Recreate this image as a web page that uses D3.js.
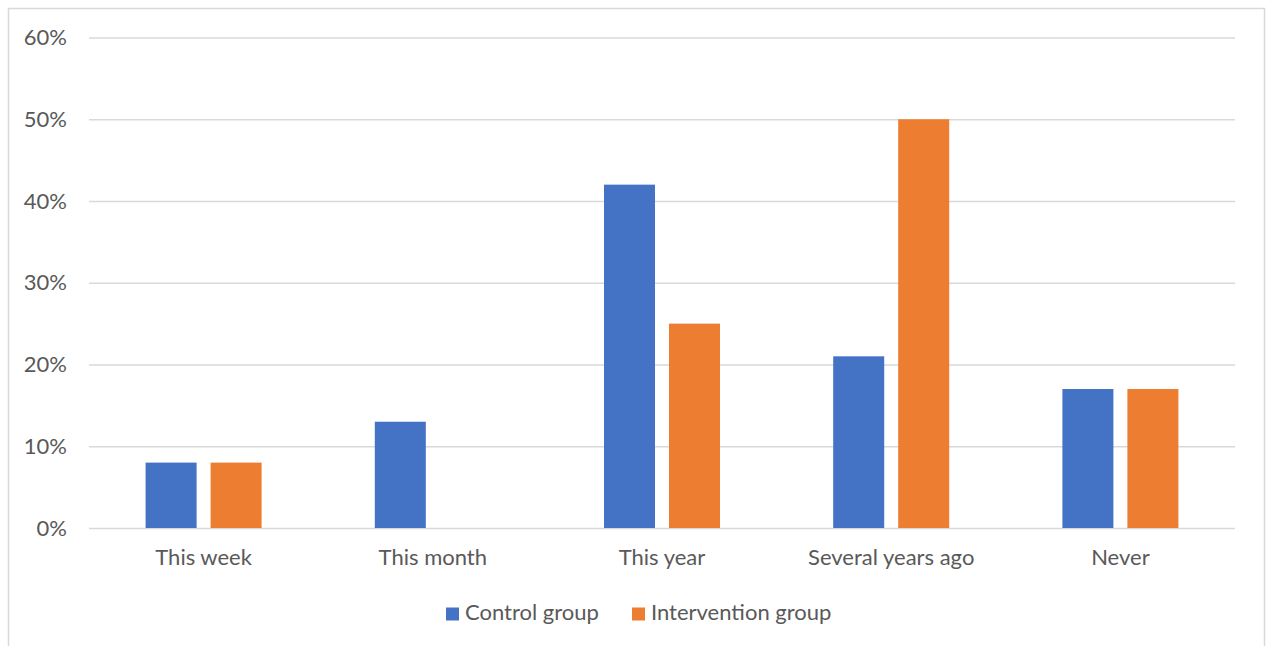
<!DOCTYPE html>
<html>
<head>
<meta charset="utf-8">
<script src="https://cdn.jsdelivr.net/npm/d3@7"></script>
<style>
  html, body { margin: 0; padding: 0; background: #fff; }
  svg text { font-family: Lato, "Open Sans", sans-serif; fill: #595959; }
</style>
</head>
<body>
<svg id="chart" width="1266" height="646"></svg>
<script>
const categories = ["This week", "This month", "This year", "Several years ago", "Never"];
const seriesNames = ["Control group", "Intervention group"];
const controlValues = [0.08, 0.13, 0.42, 0.21, 0.17];
const interventionValues = [0.08, 0, 0.25, 0.50, 0.17];
const yTicks = [0, 0.1, 0.2, 0.3, 0.4, 0.5, 0.6];
const colors = ["#4472C4", "#ED7D31"];

const fontSize = 22;
const svg = d3.select("#chart");

// outer chart frame
svg.append("rect")
  .attr("x", 8.5).attr("y", 8.5)
  .attr("width", 1256).attr("height", 660)
  .attr("fill", "#fff").attr("stroke", "#D9D9D9").attr("stroke-width", 1.5);

const plot = { left: 89, right: 1235, top: 37.5, bottom: 528 };

const x = d3.scaleBand().domain(categories).range([plot.left, plot.right]);
const y = d3.scaleLinear().domain([0, 0.6]).range([plot.bottom, plot.top]);
// two bars per category, centred in the band with a small gap between them
const inner = d3.scaleBand().domain(seriesNames)
  .range([x.bandwidth() / 2 - 58, x.bandwidth() / 2 + 58])
  .paddingInner(2 - 116 / 65);

// gridlines + y labels
const yAxis = d3.axisLeft(y).tickValues(yTicks).tickFormat(d3.format(".0%"))
  .tickSize(-(plot.right - plot.left)).tickPadding(22);
const gy = svg.append("g").attr("transform", `translate(${plot.left},0)`).call(yAxis);
gy.select(".domain").remove();
gy.selectAll(".tick line").attr("stroke", "#D9D9D9").attr("stroke-width", 1.5);
gy.selectAll(".tick text").attr("font-size", fontSize).attr("font-family", "Lato, sans-serif").attr("fill", "#595959");

// x labels
const xAxis = d3.axisBottom(x).tickSize(0).tickPadding(21);
const gx = svg.append("g").attr("transform", `translate(0,${plot.bottom})`).call(xAxis);
gx.select(".domain").remove();
gx.selectAll(".tick text").attr("font-size", fontSize).attr("font-family", "Lato, sans-serif").attr("fill", "#595959");

// bars
const rows = categories.map((c, i) => ({ cat: c, vals: [controlValues[i], interventionValues[i]] }));
const groups = svg.append("g").selectAll("g").data(rows).join("g")
  .attr("transform", d => `translate(${x(d.cat)},0)`);
groups.selectAll("rect")
  .data(d => d.vals.map((v, k) => ({ name: seriesNames[k], v, k })))
  .join("rect")
  .attr("x", d => inner(d.name))
  .attr("width", inner.bandwidth())
  .attr("y", d => y(d.v))
  .attr("height", d => y(0) - y(d.v))
  .attr("fill", d => colors[d.k]);

// legend
const legendItems = [
  { name: seriesNames[0], x: 446 },
  { name: seriesNames[1], x: 632 }
];
const lg = svg.append("g").selectAll("g").data(legendItems).join("g")
  .attr("transform", d => `translate(${d.x},607.5)`);
lg.append("rect").attr("width", 13).attr("height", 13)
  .attr("fill", (d, i) => colors[i]);
lg.append("text").attr("x", 19).attr("y", 5).attr("dy", "0.35em")
  .attr("font-size", fontSize).text(d => d.name);
</script>
</body>
</html>
